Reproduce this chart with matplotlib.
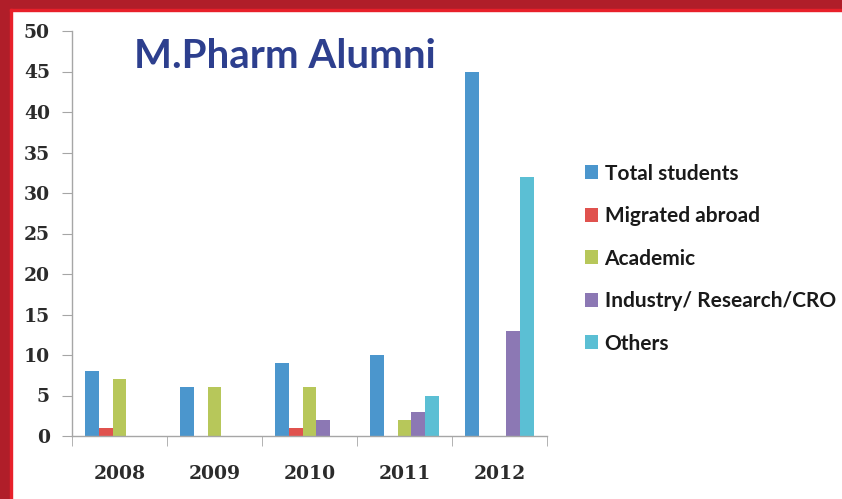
import matplotlib.pyplot as plt
import numpy as np
from matplotlib.patches import Rectangle

years = ['2008', '2009', '2010', '2011', '2012']
total_students = [8, 6, 9, 10, 45]
migrated_abroad = [1, 0, 1, 0, 0]
academic = [7, 6, 6, 2, 0]
industry = [0, 0, 2, 3, 13]
others = [0, 0, 0, 5, 32]

series = [('Total students', total_students, '#4b96cd'),
          ('Migrated abroad', migrated_abroad, '#e0524e'),
          ('Academic', academic, '#b7c75a'),
          ('Industry/ Research/CRO', industry, '#8c78b4'),
          ('Others', others, '#5bbfd4')]

fig = plt.figure(figsize=(8.42, 4.99), dpi=100)
ax = fig.add_axes([72 / 842, 1 - 436 / 499, 475 / 842, 405 / 499])

x = np.arange(len(years))
w = 0.147
for i, (name, vals, color) in enumerate(series):
    ax.bar(x + (i - 2) * w, vals, w, color=color, label=name, zorder=2)

ax.set_xlim(-0.5, len(years) - 0.5)
ax.set_ylim(0, 50)
ax.set_yticks(range(0, 51, 5))
ax.set_xticks(x)
ax.set_xticklabels(years)
ax.set_xticks(np.arange(-0.5, len(years)), minor=True)

for s in ['top', 'right']:
    ax.spines[s].set_visible(False)
for s in ['left', 'bottom']:
    ax.spines[s].set_color('#a6a6a6')
    ax.spines[s].set_linewidth(1.0)

ax.tick_params(axis='x', which='major', length=0, pad=21)
ax.tick_params(axis='x', which='minor', length=7, color='#a6a6a6', direction='out')
ax.tick_params(axis='y', length=7, color='#a6a6a6', pad=9)
for lbl in ax.get_xticklabels() + ax.get_yticklabels():
    lbl.set_fontfamily('DejaVu Serif')
    lbl.set_fontsize(13.5)
    lbl.set_fontweight('bold')
    lbl.set_color('#2b2b2b')

fig.text(134 / 842, 1 - 56 / 499, 'M.Pharm Alumni', fontsize=29, fontweight='bold',
         color='#2d3f8e', family='Lato', va='center', ha='left')

leg = fig.legend(loc='upper left', bbox_to_anchor=(566 / 842, 1 - 145 / 499),
                 frameon=False, prop={'family': 'Lato', 'size': 15, 'weight': 'bold'},
                 handlelength=0.65, handleheight=0.65, handletextpad=0.3,
                 labelspacing=1.08)
for t in leg.get_texts():
    t.set_color('#1a1a1a')

# red frame on the top and left edges
fig.patches.append(Rectangle((0, 1 - 9 / 499), 1, 9 / 499, transform=fig.transFigure,
                             color='#b01e29', zorder=0))
fig.patches.append(Rectangle((0, 0), 10 / 842, 1, transform=fig.transFigure,
                             color='#b01e29', zorder=0))
fig.patches.append(Rectangle((10 / 842, 0), 2 / 842, 1 - 9 / 499, transform=fig.transFigure,
                             color='#e8202a', zorder=0))
fig.patches.append(Rectangle((10 / 842, 1 - 11 / 499), 1, 2 / 499, transform=fig.transFigure,
                             color='#e8202a', zorder=0))

plt.savefig('out.png', dpi=100)
